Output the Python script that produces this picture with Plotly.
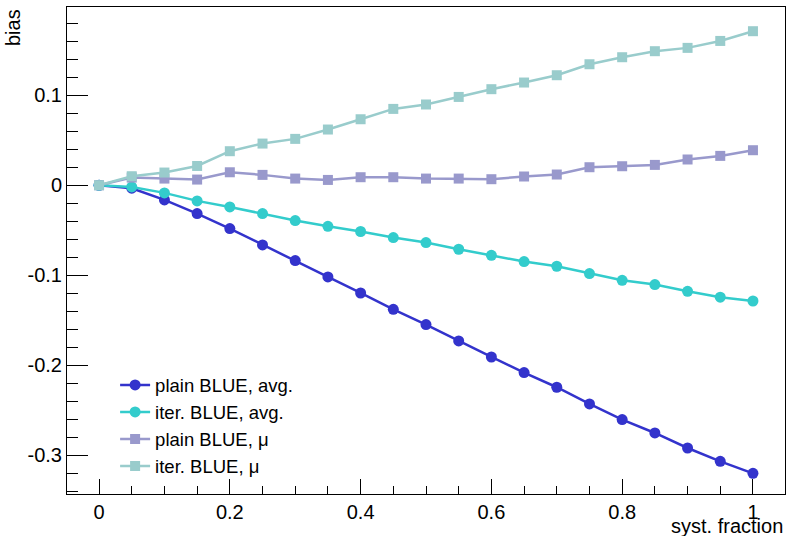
import plotly.graph_objects as go

syst_fraction = [0.0, 0.05, 0.1, 0.15, 0.2, 0.25, 0.3, 0.35, 0.4, 0.45, 0.5,
                 0.55, 0.6, 0.65, 0.7, 0.75, 0.8, 0.85, 0.9, 0.95, 1.0]

plain_avg = [0.0, -0.0033, -0.0163, -0.0315, -0.0481, -0.0663, -0.0837, -0.1019,
             -0.1197, -0.1378, -0.1548, -0.1730, -0.1908, -0.2081, -0.2244,
             -0.2430, -0.2603, -0.2752, -0.2919, -0.3067, -0.3200]
iter_avg = [0.0, -0.0019, -0.0085, -0.0174, -0.0241, -0.0315, -0.0392, -0.0456,
            -0.0514, -0.0581, -0.0637, -0.0711, -0.0778, -0.0848, -0.0900,
            -0.0981, -0.1056, -0.1103, -0.1178, -0.1244, -0.1286]
plain_mu = [0.0, 0.0085, 0.0074, 0.0063, 0.0144, 0.0115, 0.0074, 0.0059, 0.0089,
            0.0089, 0.0074, 0.0074, 0.0067, 0.0097, 0.0119, 0.0200, 0.0211,
            0.0226, 0.0286, 0.0326, 0.0389]
iter_mu = [0.0, 0.0100, 0.0141, 0.0214, 0.0378, 0.0463, 0.0515, 0.0619, 0.0733,
           0.0848, 0.0897, 0.0981, 0.1067, 0.1141, 0.1222, 0.1344, 0.1422,
           0.1489, 0.1526, 0.1603, 0.1711]

series_names = ["plain BLUE, avg.", "iter. BLUE, avg.", "plain BLUE, μ", "iter. BLUE, μ"]
series_values = [plain_avg, iter_avg, plain_mu, iter_mu]
series_colors = ["#3333cc", "#33cccc", "#9999cc", "#99cccc"]
series_symbols = ["circle", "circle", "square", "square"]

x_tick_vals = [0, 0.2, 0.4, 0.6, 0.8, 1.0]
x_tick_text = ["0", "0.2", "0.4", "0.6", "0.8", "1"]
y_tick_vals = [-0.3, -0.2, -0.1, 0, 0.1]
y_tick_text = ["-0.3", "-0.2", "-0.1", "0", "0.1"]

FONT = "Liberation Sans, Arial, Helvetica, sans-serif"

fig = go.Figure()
for name, vals, col, sym in zip(series_names, series_values, series_colors, series_symbols):
    fig.add_trace(go.Scatter(
        x=syst_fraction, y=vals, name=name, mode="lines+markers",
        line=dict(color=col, width=2.5),
        marker=dict(color=col, symbol=sym, size=11 if sym == "circle" else 10,
                    line=dict(width=0)),
    ))

fig.update_layout(
    width=786, height=536,
    margin=dict(l=67, r=1, t=7, b=42),
    paper_bgcolor="white", plot_bgcolor="white",
    font=dict(family=FONT, size=20, color="black"),
    showlegend=True,
    legend=dict(x=0.067, y=0.262, xanchor="left", yanchor="top",
                bgcolor="rgba(0,0,0,0)", font=dict(size=18.5), tracegroupgap=0,
                itemwidth=30),
    xaxis=dict(range=[-0.049, 1.049], showgrid=False, zeroline=False,
               showline=True, linecolor="black", linewidth=1, mirror=True,
               tickmode="array", tickvals=x_tick_vals, ticktext=x_tick_text,
               ticks="inside", ticklen=15, tickwidth=1, tickcolor="black",
               minor=dict(tickmode="linear", tick0=0, dtick=0.05, ticks="inside",
                          ticklen=8, tickwidth=1, tickcolor="black", showgrid=False),
               tickfont=dict(size=20)),
    yaxis=dict(range=[-0.343, 0.198], showgrid=False, zeroline=False,
               showline=True, linecolor="black", linewidth=1, mirror=True,
               tickmode="array", tickvals=y_tick_vals, ticktext=y_tick_text,
               ticks="inside", ticklen=21, tickwidth=1, tickcolor="black",
               minor=dict(tickmode="linear", tick0=0, dtick=0.02, ticks="inside",
                          ticklen=11, tickwidth=1, tickcolor="black", showgrid=False),
               tickfont=dict(size=20)),
    annotations=[
        dict(text="bias", xref="paper", yref="paper", x=-0.094, y=1.0,
             xanchor="left", yanchor="top", textangle=-90, showarrow=False,
             font=dict(size=20)),
        dict(text="syst. fraction", xref="paper", yref="paper", x=1.0, y=-0.065,
             xanchor="right", yanchor="middle", showarrow=False, font=dict(size=20)),
    ],
)

fig.write_html("out.html")
